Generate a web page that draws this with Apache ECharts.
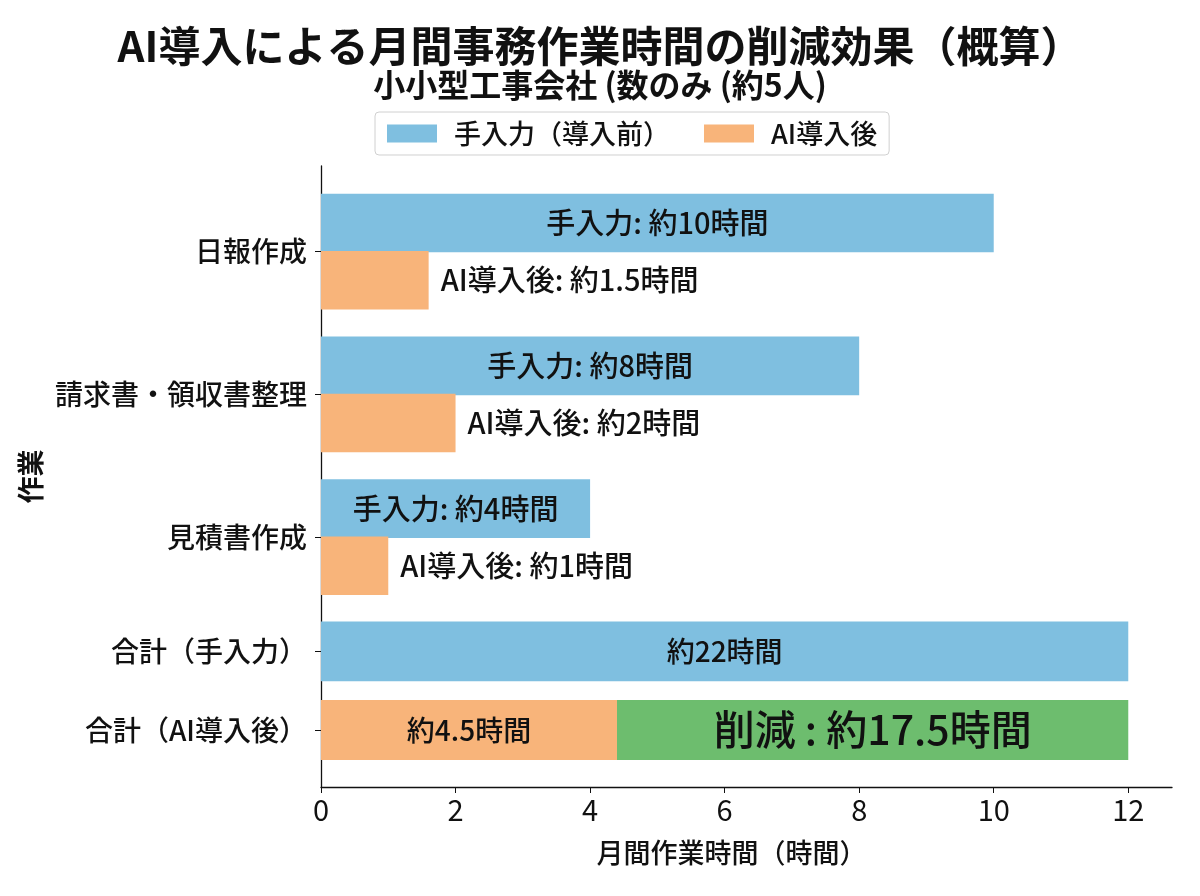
<!DOCTYPE html>
<html>
<head>
<meta charset="utf-8">
<script src="https://cdn.jsdelivr.net/npm/echarts@6/dist/echarts.min.js"></script>
<style>
  html, body { margin: 0; padding: 0; background: #fff; }
  #chart { width: 1200px; height: 896px; }
</style>
</head>
<body>
<div id="chart"></div>
<script>
// categories and their positions on the y scale
const categories = ['日報作成', '請求書・領収書整理', '見積書作成', '合計（手入力）', '合計（AI導入後）']
const categoryPos = [0, 1, 2, 2.8, 3.35]

// manual (before) bars
const manualHours = [10, 8, 4, 12]
const manualPos = [-0.2, 0.8, 1.8, 2.8]
const manualLabels = ['手入力: 約10時間', '手入力: 約8時間', '手入力: 約4時間', '約22時間']

// AI bars
const aiHours = [1.6, 2, 1, 4.4]
const aiPos = [0.2, 1.2, 2.2, 3.35]
const aiLabels = ['AI導入後: 約1.5時間', 'AI導入後: 約2時間', 'AI導入後: 約1時間', '約4.5時間']
const aiLabelOutside = [true, true, true, false]

// reduction segment
const reductionRange = [4.4, 12]
const reductionPos = [3.35]
const reductionLabels = ['削減 : 約17.5時間']

const xTicks = [0, 2, 4, 6, 8, 10, 12]

const FONT = '"Noto Sans CJK JP", "Noto Sans", sans-serif'
const BLUE = '#7fbfe0'
const ORANGE = '#f8b47a'
const GREEN = '#6dbd6e'

function barRender(labels, outside, fontSizes, bh) {
  return function (params, api) {
    const i = params.dataIndex
    const x0 = api.value(0), x1 = api.value(1), yc = api.value(2)
    const h = bh[i] || 0.41
    const a = api.coord([x0, yc - h / 2])
    const b = api.coord([x1, yc + h / 2])
    const out = outside && outside[i]
    return {
      type: 'rect',
      shape: {
        x: Math.min(a[0], b[0]), y: Math.min(a[1], b[1]),
        width: Math.abs(b[0] - a[0]), height: Math.abs(b[1] - a[1])
      },
      style: api.style(),
      textContent: {
        style: {
          text: labels[i],
          fontSize: fontSizes[i],
          fontFamily: FONT,
          fontWeight: 500,
          fill: '#111'
        }
      },
      textConfig: { position: out ? 'right' : 'inside', distance: 12 }
    }
  }
}

const barHeights = [0.41, 0.41, 0.41, 0.42]

const chart = echarts.init(document.getElementById('chart'))
chart.setOption({
  animation: false,
  textStyle: { fontFamily: FONT },
  title: {
    text: 'AI導入による月間事務作業時間の削減効果（概算）',
    subtext: '小小型工事会社 (数のみ (約5人)',
    left: 'center',
    top: 20,
    itemGap: 2,
    textStyle: { fontSize: 42, fontWeight: 'bold', color: '#111', fontFamily: FONT },
    subtextStyle: { fontSize: 32, fontWeight: 'bold', color: '#111', fontFamily: FONT }
  },
  legend: {
    top: 112,
    left: 375,
    data: ['手入力（導入前）', 'AI導入後'],
    icon: 'rect',
    itemWidth: 50,
    itemHeight: 18,
    itemGap: 34,
    padding: [8, 12],
    borderColor: '#d0d0d0',
    borderWidth: 1,
    borderRadius: 4,
    textStyle: { fontSize: 27, color: '#111', fontFamily: FONT, fontWeight: 500, padding: [0, 0, 0, 12] }
  },
  grid: { left: 321, right: 28, top: 166, bottom: 109 },
  xAxis: {
    type: 'value',
    min: 0,
    max: 12.65,
    interval: 2,
    name: '月間作業時間（時間）',
    nameLocation: 'middle',
    nameGap: 52,
    nameTextStyle: { fontSize: 27, color: '#111', fontWeight: 500, padding: [0, 30, 0, 0] },
    axisLine: { show: true, onZero: false, lineStyle: { color: '#111', width: 1.3 } },
    axisTick: { show: true, length: 6, lineStyle: { color: '#111' }, customValues: xTicks },
    axisLabel: { fontSize: 29, color: '#111', margin: 8, customValues: xTicks },
    splitLine: { show: false }
  },
  yAxis: {
    type: 'value',
    inverse: true,
    min: -0.6,
    max: 3.75,
    name: '作業',
    nameLocation: 'middle',
    nameRotate: 90,
    nameGap: 266,
    nameTextStyle: { fontSize: 27, color: '#111', fontWeight: 'bold' },
    axisLine: { show: true, onZero: false, lineStyle: { color: '#111', width: 1.3 } },
    axisTick: { show: true, length: 6, lineStyle: { color: '#111' }, customValues: categoryPos },
    axisLabel: {
      fontSize: 28,
      color: '#111',
      fontWeight: 500,
      margin: 14,
      customValues: categoryPos,
      formatter: v => {
        const i = categoryPos.findIndex(p => Math.abs(p - v) < 1e-6)
        return i >= 0 ? categories[i] : ''
      }
    },
    splitLine: { show: false }
  },
  series: [
    {
      name: '手入力（導入前）',
      type: 'custom',
      itemStyle: { color: BLUE },
      encode: { x: [0, 1], y: 2 },
      renderItem: barRender(manualLabels, null, [29, 29, 29, 28], barHeights),
      data: manualHours.map((v, i) => [0, v, manualPos[i]])
    },
    {
      name: 'AI導入後',
      type: 'custom',
      itemStyle: { color: ORANGE },
      encode: { x: [0, 1], y: 2 },
      renderItem: barRender(aiLabels, aiLabelOutside, [29, 29, 29, 28], barHeights),
      data: aiHours.map((v, i) => [0, v, aiPos[i]])
    },
    {
      name: '削減',
      type: 'custom',
      itemStyle: { color: GREEN },
      encode: { x: [0, 1], y: 2 },
      renderItem: barRender(reductionLabels, null, [41], [0.42]),
      data: reductionPos.map(p => [reductionRange[0], reductionRange[1], p])
    }
  ]
})
</script>
</body>
</html>
